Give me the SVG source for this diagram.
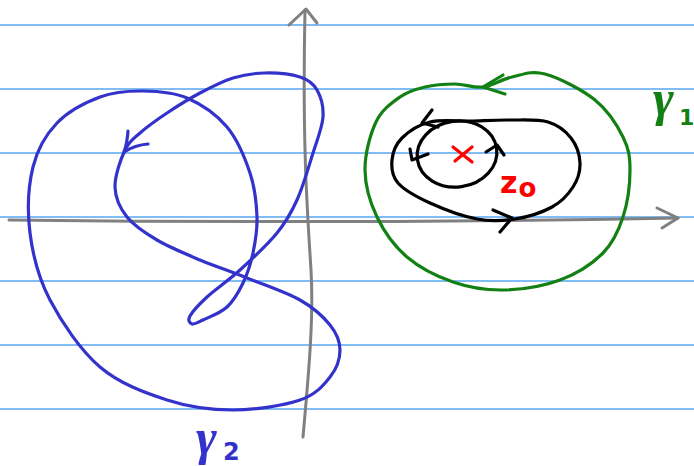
<svg xmlns="http://www.w3.org/2000/svg" width="694" height="466" viewBox="0 0 694 466">
<style>
.rule{stroke:#80bcf6;stroke-width:2;fill:none}
.ax{stroke:#808080;stroke-width:3;fill:none;stroke-linecap:round;stroke-linejoin:round}
.blue{stroke:#3333cc;stroke-width:3.2;fill:none;stroke-linecap:round;stroke-linejoin:round}
.green{stroke:#138013;stroke-width:3.2;fill:none;stroke-linecap:round;stroke-linejoin:round}
.blk{stroke:#000;stroke-width:3.2;fill:none;stroke-linecap:round;stroke-linejoin:round}
.red{stroke:#ff0000;stroke-width:3.2;fill:none;stroke-linecap:round}
.g{font-family:"Liberation Serif",serif;font-style:italic;font-weight:bold}
.n{font-family:"DejaVu Sans",sans-serif;font-weight:bold}
</style>
<rect width="694" height="466" fill="#ffffff"/>
<g id="rules">
<line class="rule" x1="0" y1="25" x2="694" y2="25"/>
<line class="rule" x1="0" y1="89" x2="694" y2="89"/>
<line class="rule" x1="0" y1="153" x2="694" y2="153"/>
<line class="rule" x1="0" y1="217" x2="694" y2="217"/>
<line class="rule" x1="0" y1="281" x2="694" y2="281"/>
<line class="rule" x1="0" y1="345" x2="694" y2="345"/>
<line class="rule" x1="0" y1="409" x2="694" y2="409"/>
</g>
<g id="axes">
<path class="ax" d="M9,220 Q350,224 678,218"/>
<path class="ax" d="M657,208 L678,218 L662,228"/>
<path class="ax" d="M303,437 C308,380 314,320 311,270 C308,220 302,150 305,10"/>
<path class="ax" d="M289,25 L306,9 L317,23"/>
</g>
<g id="gamma2">
<path class="blue" d="M125,150 C120.8,159 114.7,175.8 115,187 C115.3,198.2 120,208.2 127,217 C134,225.8 144.8,232.8 157,240 C169.2,247.2 185,253.7 200,260 C215,266.3 230.3,271.3 247,278 C263.7,284.7 286.2,292.2 300,300 C313.8,307.8 323.3,316.7 330,325 C336.7,333.3 340,341.3 340,350 C340,358.7 336.7,368.7 330,377 C323.3,385.3 316.2,394.5 300,400 C283.8,405.5 255.2,410 233,410 C210.8,410 189.2,407.2 167,400 C144.8,392.8 119.5,383.7 100,367 C80.5,350.3 61.7,322.3 50,300 C38.3,277.7 32.8,255.2 30,233 C27.2,210.8 28.5,185.3 33,167 C37.5,148.7 45.8,134.7 57,123 C68.2,111.3 85.7,102.3 100,97 C114.3,91.7 128.5,90.8 143,91 C157.5,91.2 173,92 187,98 C201,104 216.5,114.5 227,127 C237.5,139.5 245,158 250,173 C255,188 256.5,203.7 257,217 C257.5,230.3 255.3,242 253,253 C250.7,264 247.3,274 243,283 C238.7,292 233.7,300.8 227,307 C220.3,313.2 208.8,317.2 203,320 C197.2,322.8 194.2,324.7 192,324 C189.8,323.3 187.5,320.5 190,316 C192.5,311.5 198.7,304.7 207,297 C215.3,289.3 228.3,280.7 240,270 C251.7,259.3 267.5,244.7 277,233 C286.5,221.3 291,213.3 297,200 C303,186.7 308.7,166.8 313,153 C317.3,139.2 322.3,127.5 323,117 C323.7,106.5 320.8,96.7 317,90 C313.2,83.3 308.7,79.8 300,77 C291.3,74.2 276.2,72.8 265,73 C253.8,73.2 243.8,74.7 233,78 C222.2,81.3 211,87.2 200,93 C189,98.8 177,106.3 167,113 C157,119.7 147,126.8 140,133 C133,139.2 129.2,141 125,150"/>
<path class="blue" d="M128,131 Q127,144 124,152 Q135,145 148,144"/>
<text class="g" x="196" y="454" font-size="50" fill="#3333cc">γ</text>
<text class="n" x="223" y="460" font-size="24" fill="#3333cc">2</text>
</g>
<g id="gamma1">
<path class="green" d="M483,87 C473.5,88.2 464.7,84 455,84 C445.3,84 434.2,84.8 425,87 C415.8,89.2 408.2,91.2 400,97 C391.8,102.8 381.8,109.8 376,122 C370.2,134.2 364.8,154.2 365,170 C365.2,185.8 370,202.5 377,217 C384,231.5 394.3,246.2 407,257 C419.7,267.8 437,276.5 453,282 C469,287.5 485.2,290.3 503,290 C520.8,289.7 543.3,286.2 560,280 C576.7,273.8 592.5,263.5 603,253 C613.5,242.5 618.5,230.8 623,217 C627.5,203.2 630,183.3 630,170 C630,156.7 628.8,148.7 623,137 C617.2,125.3 608,110.5 595,100 C582,89.5 558.8,77.8 545,74 C531.2,70.2 522.3,74.8 512,77 C501.7,79.2 492.5,85.8 483,87"/>
<path class="green" d="M503,75 L483,87 L505,94"/>
<text class="g" x="653" y="115" font-size="50" fill="#138013">γ</text>
<text class="n" x="679" y="125" font-size="22" fill="#138013">1</text>
</g>
<g id="outer-loop">
<path class="blk" d="M510,120 C497,119.8 483.3,120.7 470,121 C456.7,121.3 441.3,119.2 430,122 C418.7,124.8 408.3,131.7 402,138 C395.7,144.3 392.7,152.5 392,160 C391.3,167.5 391.7,175.8 398,183 C404.3,190.2 416.8,197 430,203 C443.2,209 462.8,216.3 477,219 C491.2,221.7 502.5,221 515,219 C527.5,217 542.3,212.3 552,207 C561.7,201.7 568.3,194.3 573,187 C577.7,179.7 580.3,171.2 580,163 C579.7,154.8 576.3,144.8 571,138 C565.7,131.2 558.2,125 548,122 C537.8,119 523,120.2 510,120"/>
<path class="blk" d="M432,110 L422,123 L438,127"/>
<path class="blk" d="M493,210 L512,218 L500,232"/>
</g>
<g id="inner-loop">
<ellipse class="blk" cx="457" cy="154" rx="40" ry="33" transform="rotate(-8 457 154)"/>
<path class="blk" d="M410,149 L412,160 L428,154"/>
<path class="blk" d="M486,152 L497,145 L504,155"/>
</g>
<g id="z0">
<path class="red" d="M453,147 L472,162 M472,147 L455,161"/>
<text class="n" x="500" y="193" font-size="30" fill="#ff0000">z<tspan font-size="26" dx="1" dy="4">o</tspan></text>
</g>
</svg>
